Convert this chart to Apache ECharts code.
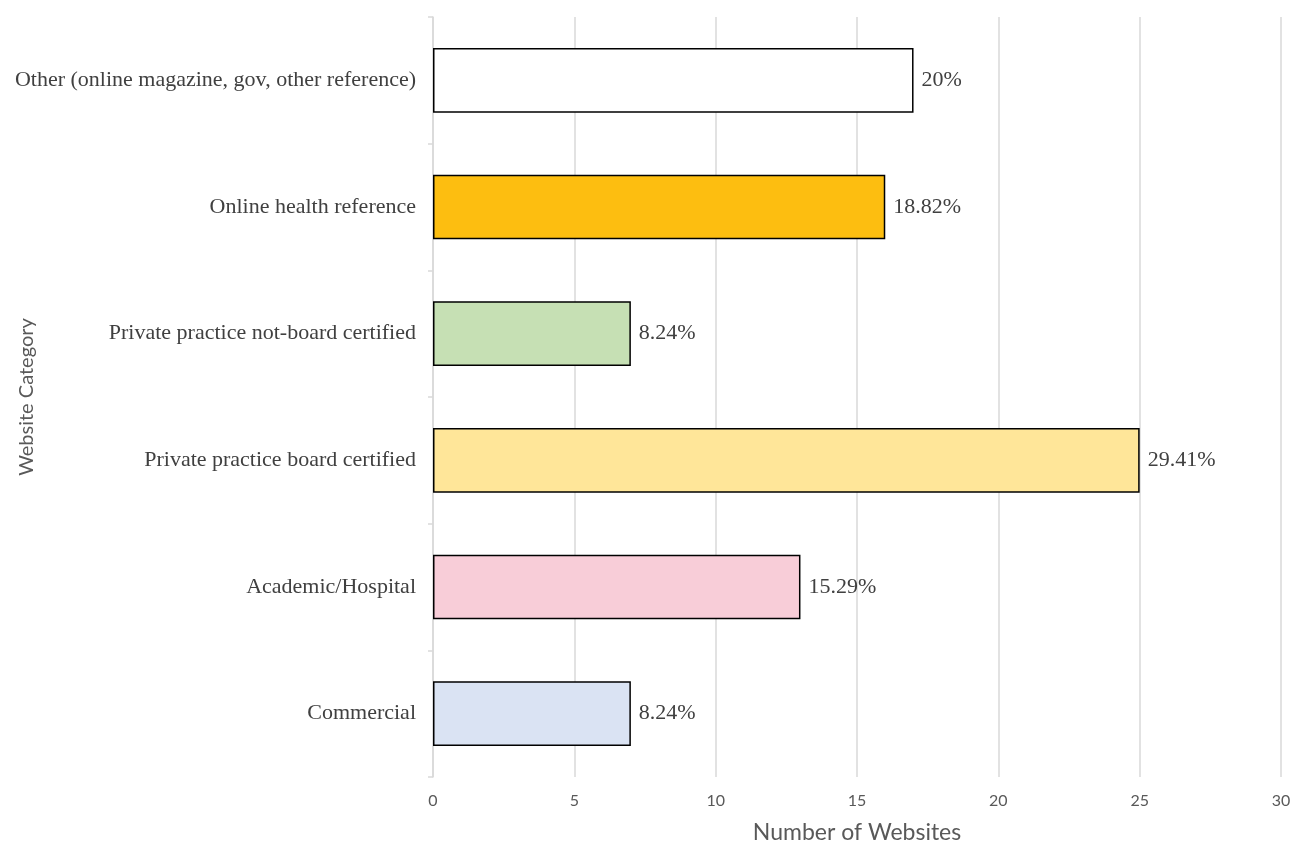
<!DOCTYPE html>
<html>
<head>
<meta charset="utf-8">
<script src="https://cdn.jsdelivr.net/npm/echarts@6/dist/echarts.min.js"></script>
<style>
  html, body { margin: 0; padding: 0; background: #ffffff; }
  #chart { width: 1293px; height: 843px; }
</style>
</head>
<body>
<div id="chart"></div>
<script>
// Website categories, listed top to bottom
const categories = [
  'Other (online magazine, gov, other reference)',
  'Online health reference',
  'Private practice not-board certified',
  'Private practice board certified',
  'Academic/Hospital',
  'Commercial'
];
// Number of websites per category
const counts = [17, 16, 7, 25, 13, 7];
// Share of all websites, as printed beside each bar
const shareLabels = ['20%', '18.82%', '8.24%', '29.41%', '15.29%', '8.24%'];
// Fill colour per category
const barColors = ['#FFFFFF', '#FDBE10', '#C6E0B4', '#FFE699', '#F8CDD8', '#DAE3F3'];

const chart = echarts.init(document.getElementById('chart'));

const serif = '"Liberation Serif", "Times New Roman", serif';
const sans = 'Lato, "Open Sans", sans-serif';

chart.setOption({
  animation: false,
  grid: {
    left: 433, right: 12, top: 17, bottom: 66,
    containLabel: false,
    outerBoundsMode: 'none'
  },
  xAxis: {
    type: 'value',
    min: 0,
    max: 30,
    interval: 5,
    name: 'Number of Websites',
    nameLocation: 'middle',
    nameGap: 44,
    nameMoveOverlap: false,
    nameTextStyle: { fontFamily: sans, fontSize: 23, color: '#595959' },
    axisLine: { show: false },
    axisTick: { show: false },
    axisLabel: { fontFamily: sans, fontSize: 16, color: '#595959', margin: 16 },
    splitLine: { show: true, lineStyle: { color: '#D9D9D9', width: 1.5 } }
  },
  yAxis: {
    type: 'category',
    data: categories,
    inverse: true,
    name: 'Website Category',
    nameLocation: 'middle',
    nameGap: 396,
    nameRotate: 90,
    nameMoveOverlap: false,
    nameTextStyle: { fontFamily: sans, fontSize: 20, color: '#595959' },
    axisLine: { show: true, lineStyle: { color: '#D9D9D9', width: 1.5 } },
    axisTick: { show: true, length: 5, lineStyle: { color: '#D9D9D9', width: 1.5 } },
    axisLabel: { fontFamily: serif, fontSize: 22, color: '#404040', margin: 17 }
  },
  series: [{
    type: 'bar',
    data: counts.map((v, i) => ({
      value: v,
      itemStyle: { color: barColors[i] }
    })),
    barWidth: '51%',
    itemStyle: { borderColor: '#000000', borderWidth: 1.5 },
    label: {
      show: true,
      position: 'right',
      distance: 8,
      fontFamily: serif,
      fontSize: 22,
      color: '#404040',
      formatter: p => shareLabels[p.dataIndex]
    }
  }]
});
</script>
</body>
</html>
